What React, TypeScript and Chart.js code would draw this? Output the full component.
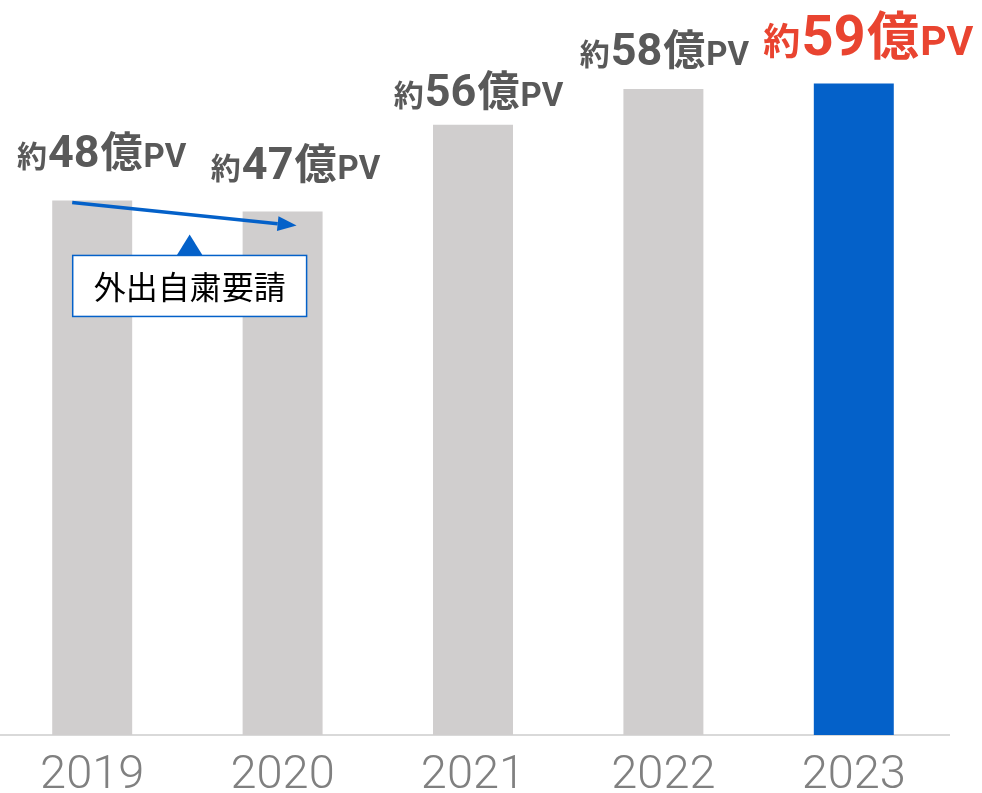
import React, { useEffect, useRef } from "react";
import { Chart, registerables } from "chart.js";

Chart.register(...registerables);

const years = ["2019", "2020", "2021", "2022", "2023"];
const pageViews = [48, 47, 54.8, 58, 58.5];
const labelNumbers = ["48", "47", "56", "58", "59"];
const highlightIndex = 4;
const annotationText = "外出自粛要請";

// label layout (offsets from each bar's top-centre)
const labelDx = [9.5, 13, 5.5, 1, 14.5];
const labelGap = [33, 33, 19, 24, 29];

const GRAY_BAR = "#d0cece";
const BLUE = "#0461c9";
const RED = "#e94430";
const LABEL_GRAY = "#595959";

const CJK = '"Noto Sans CJK JP", sans-serif';
const LATIN = 'Roboto, "Noto Sans", sans-serif';

const labelPlugin = {
  id: "valueLabels",
  afterDatasetsDraw(chart: any) {
    const ctx = chart.ctx;
    const meta = chart.getDatasetMeta(0);
    ctx.save();
    meta.data.forEach((bar: any, i: number) => {
      const hi = i === highlightIndex;
      const k = hi ? 1.24 : 1;
      const parts = [
        { t: "約", font: `bold ${Math.round(30 * k)}px ${CJK}` },
        { t: labelNumbers[i], font: `bold ${Math.round(45 * k)}px ${LATIN}` },
        { t: "億", font: `bold ${Math.round(42 * k)}px ${CJK}` },
        { t: "PV", font: `bold ${Math.round(33 * k)}px ${LATIN}` },
      ];
      const gap = 1 * k;
      let total = 0;
      const widths = parts.map((p) => {
        ctx.font = p.font;
        const w = ctx.measureText(p.t).width;
        total += w;
        return w;
      });
      total += gap * (parts.length - 1);
      let x = bar.x + labelDx[i] - total / 2;
      const y = bar.y - labelGap[i];
      ctx.fillStyle = hi ? RED : LABEL_GRAY;
      ctx.textBaseline = "alphabetic";
      ctx.textAlign = "left";
      parts.forEach((p, j) => {
        ctx.font = p.font;
        ctx.fillText(p.t, x, y);
        x += widths[j] + gap;
      });
    });
    ctx.restore();
  },
};

const annotationPlugin = {
  id: "annotation",
  afterDatasetsDraw(chart: any) {
    const ctx = chart.ctx;
    const meta = chart.getDatasetMeta(0);
    const b0 = meta.data[0];
    const b1 = meta.data[1];
    ctx.save();
    // arrow
    const sx = b0.x - 20, sy = b0.y + 2;
    const ex = b1.x + 14, ey = b1.y + 14;
    const ang = Math.atan2(ey - sy, ex - sx);
    const headLen = 19, headHalf = 7.5;
    const bx = ex - headLen * Math.cos(ang), by = ey - headLen * Math.sin(ang);
    ctx.strokeStyle = BLUE;
    ctx.fillStyle = BLUE;
    ctx.lineWidth = 3.5;
    ctx.beginPath();
    ctx.moveTo(sx, sy);
    ctx.lineTo(bx, by);
    ctx.stroke();
    ctx.beginPath();
    ctx.moveTo(ex, ey);
    ctx.lineTo(bx + headHalf * Math.sin(ang), by - headHalf * Math.cos(ang));
    ctx.lineTo(bx - headHalf * Math.sin(ang), by + headHalf * Math.cos(ang));
    ctx.closePath();
    ctx.fill();

    // callout box
    const left = b0.x - 19.5;
    const right = b1.x + 24;
    const top = b0.y + 55;
    const h = 61;
    const cx = (left + right) / 2;
    ctx.beginPath();
    ctx.moveTo(cx, top - 21);
    ctx.lineTo(cx + 13, top);
    ctx.lineTo(cx - 13, top);
    ctx.closePath();
    ctx.fill();
    ctx.fillStyle = "#ffffff";
    ctx.fillRect(left, top, right - left, h);
    ctx.lineWidth = 1.5;
    ctx.strokeRect(left, top, right - left, h);
    ctx.fillStyle = "#000000";
    ctx.font = `32px ${CJK}`;
    ctx.textAlign = "center";
    ctx.textBaseline = "middle";
    ctx.fillText(annotationText, cx, top + h / 2 + 1);
    ctx.restore();
  },
};

export default function App() {
  const ref = useRef<HTMLCanvasElement | null>(null);
  useEffect(() => {
    if (!ref.current) return;
    const chart = new Chart(ref.current, {
      type: "bar",
      data: {
        labels: years,
        datasets: [
          {
            data: pageViews,
            backgroundColor: pageViews.map((_, i) => (i === highlightIndex ? BLUE : GRAY_BAR)),
            borderWidth: 0,
            categoryPercentage: 1,
            barPercentage: 0.42,
          },
        ],
      },
      options: {
        animation: false,
        responsive: false,
        maintainAspectRatio: false,
        layout: { padding: { top: 0, right: 33, left: 0, bottom: 0 } },
        plugins: { legend: { display: false }, tooltip: { enabled: false } },
        scales: {
          y: { display: false, min: 0, max: 66 },
          x: {
            grid: { display: false, drawTicks: false },
            border: { display: true, color: "#d9d9d9", width: 2 },
            ticks: {
              color: "#808080",
              font: { family: LATIN, size: 47, weight: 300 as any, lineHeight: 1 },
              padding: 18,
            },
            afterFit(scale: any) {
              scale.height = 58;
            },
          },
        },
      },
      plugins: [labelPlugin, annotationPlugin],
    });
    return () => chart.destroy();
  }, []);
  return (
    <div style={{ position: "absolute", left: -3, top: 0, width: 985, height: 793 }}>
      <canvas ref={ref} width={985} height={793} style={{ width: 985, height: 793 }} />
    </div>
  );
}
